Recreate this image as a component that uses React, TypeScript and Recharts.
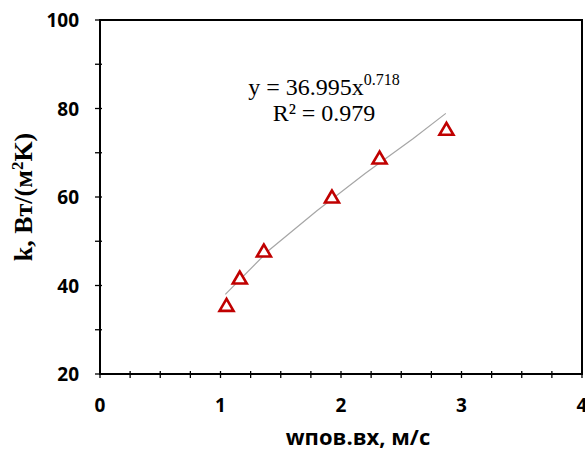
import React from "react";
import { ScatterChart, Scatter, XAxis, YAxis, ReferenceArea } from "recharts";

// measured points
const wValues = [1.05, 1.16, 1.36, 1.925, 2.32, 2.875];
const kValues = [35.5, 41.7, 47.8, 60.0, 68.8, 75.3];

// power trendline as drawn in the picture
const trendW = [1.04, 1.4, 1.8, 2.2, 2.6, 2.87];
const trendK = [38.0, 47.9, 56.9, 65.3, 73.2, 78.9];

const xTicks = [0, 0.25, 0.5, 0.75, 1, 1.25, 1.5, 1.75, 2, 2.25, 2.5, 2.75, 3, 3.25, 3.5, 3.75, 4];
const yTicks = [20, 30, 40, 50, 60, 70, 80, 90, 100];
const yLabels = [20, 40, 60, 80, 100];

const points = wValues.map((w, i) => ({ w, k: kValues[i] }));
const trend = trendW.map((w, i) => ({ w, k: trendK[i] }));

const SANS = "'Open Sans', sans-serif";
const SERIF = "'Liberation Serif', 'Times New Roman', serif";

const XTick = (props: any) => {
  const { x, y, payload } = props;
  const major = Number.isInteger(payload.value);
  return (
    <g>
      <line x1={x} x2={x} y1={y - 3} y2={y + 4} stroke="#000" strokeWidth={1.3} />
      {major && (
        <text x={x} y={y + 38} textAnchor="middle" fontFamily={SANS} fontWeight={700} fontSize={19} fill="#000">
          {payload.value}
        </text>
      )}
    </g>
  );
};

const YTick = (props: any) => {
  const { x, y, payload } = props;
  const major = yLabels.includes(payload.value);
  return (
    <g>
      <line x1={x - 5} x2={x + 2} y1={y} y2={y} stroke="#000" strokeWidth={1.3} />
      {major && (
        <text x={x - 21} y={y + 7} textAnchor="end" fontFamily={SANS} fontWeight={700} fontSize={19} fill="#000">
          {payload.value}
        </text>
      )}
    </g>
  );
};

const Triangle = (props: any) => {
  const { cx, cy } = props;
  return (
    <polygon
      points={`${cx},${cy - 6.5} ${cx - 7},${cy + 5.5} ${cx + 7},${cy + 5.5}`}
      fill="#fff"
      stroke="#C00000"
      strokeWidth={2.6}
      strokeLinejoin="miter"
    />
  );
};

const NoDot = () => <g />;

export default function App() {
  return (
    <div style={{ position: "absolute", left: 0, top: 0, background: "#fff" }}>
      <ScatterChart width={585} height={453} margin={{ top: 20, right: 3, bottom: 0, left: 0 }}>
        <XAxis
          type="number"
          dataKey="w"
          domain={[0, 4]}
          ticks={xTicks}
          interval={0}
          height={79}
          tickSize={0}
          tickMargin={0}
          tickLine={false}
          tick={<XTick />}
          axisLine={{ stroke: "#000", strokeWidth: 2 }}
        />
        <YAxis
          type="number"
          dataKey="k"
          domain={[20, 100]}
          ticks={yTicks}
          interval={0}
          width={100}
          tickSize={0}
          tickMargin={0}
          tickLine={false}
          tick={<YTick />}
          axisLine={{ stroke: "#000", strokeWidth: 2 }}
        />
        <ReferenceArea x1={0} x2={4} y1={20} y2={100} fill="none" stroke="#000" strokeWidth={2} />
        <Scatter
          data={trend}
          line={{ stroke: "#a6a6a6", strokeWidth: 1.2 }}
          lineType="joint"
          shape={<NoDot />}
          isAnimationActive={false}
        />
        <Scatter data={points} shape={<Triangle />} isAnimationActive={false} />
        <text x={324} y={95} textAnchor="middle" fontFamily={SERIF} fontSize={24} fill="#000">
          y = 36.995x
          <tspan dy={-10} fontSize={16}>0.718</tspan>
        </text>
        <text x={324} y={121} textAnchor="middle" fontFamily={SERIF} fontSize={24} fill="#000">
          R² = 0.979
        </text>
        <text x={358} y={445} textAnchor="middle" fontFamily={SANS} fontWeight={700} fontSize={22} fill="#000">
          wпов.вх, м/с
        </text>
        <text
          transform="translate(32, 197) rotate(-90)"
          textAnchor="middle"
          fontFamily={SERIF}
          fontWeight={700}
          fontSize={26}
          fill="#000"
        >
          k, Вт/(м
          <tspan dy={-9} fontSize={17}>2</tspan>
          <tspan dy={9}>K)</tspan>
        </text>
      </ScatterChart>
    </div>
  );
}
